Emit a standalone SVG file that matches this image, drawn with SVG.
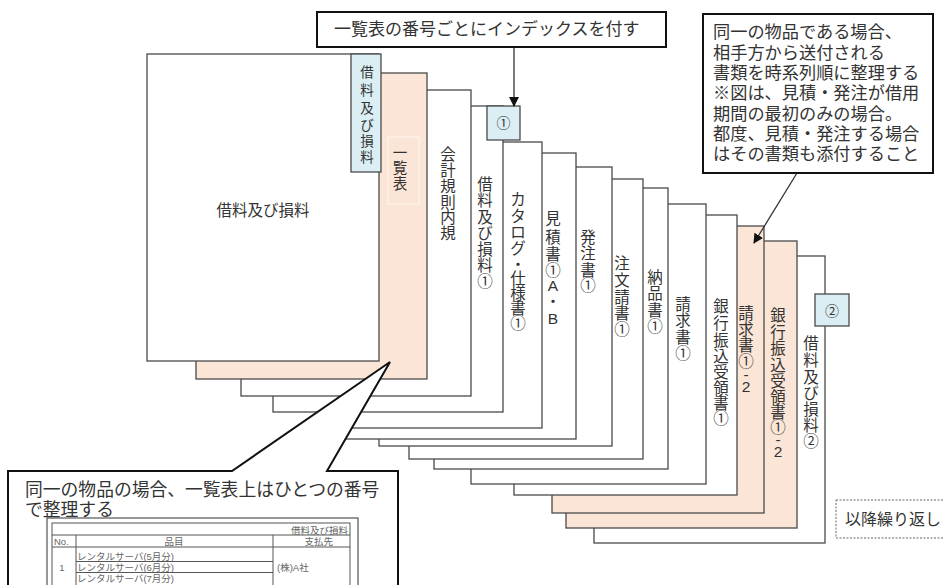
<svg xmlns="http://www.w3.org/2000/svg" width="944" height="585" viewBox="0 0 944 585">
<style>
.pg{stroke:#4a4a4a;stroke-width:1.3}
.w{fill:#ffffff}
.pe{fill:#fbe5d6}
.tab{fill:#daeef3;stroke:#4a4a4a;stroke-width:1.3}
.t{font-family:"Liberation Sans","Noto Sans CJK JP",sans-serif;fill:#333333}
.v{font-family:"Liberation Sans","Noto Sans CJK JP",sans-serif;fill:#333333;font-size:15.5px;text-anchor:middle;dominant-baseline:central}
.co{fill:#ffffff;stroke:#111111;stroke-width:2}
.tb{font-family:"Liberation Sans","Noto Sans CJK JP",sans-serif;fill:#666666;font-size:9.5px}
.tl{stroke:#555555;stroke-width:1;fill:none}
</style>
<defs>
<marker id="ah" markerWidth="10" markerHeight="10" refX="9" refY="5" orient="auto" markerUnits="userSpaceOnUse">
<path d="M0,0 L10,5 L0,10 z" fill="#111111"/>
</marker>
</defs>

<g id="page13"><rect class="pg w" x="594" y="256" width="231" height="287"/>
<rect class="tab" x="815" y="294" width="34" height="32"/>
<text class="t" x="832" y="311" font-size="14" text-anchor="middle" dominant-baseline="central">②</text>
<text class="v"><tspan x="811" y="343">借</tspan><tspan x="811" y="360">料</tspan><tspan x="811" y="377">及</tspan><tspan x="811" y="393">び</tspan><tspan x="811" y="409">損</tspan><tspan x="811" y="425">料</tspan><tspan x="811" y="441">②</tspan></text></g>

<g id="page12"><rect class="pg pe" x="566" y="241" width="231" height="287"/>
<text class="v"><tspan x="778" y="315">銀</tspan><tspan x="778" y="332">行</tspan><tspan x="778" y="348">振</tspan><tspan x="778" y="365">込</tspan><tspan x="778" y="381">受</tspan><tspan x="778" y="397">領</tspan><tspan x="778" y="412">書</tspan><tspan x="778" y="427">①</tspan><tspan x="778" y="439">-</tspan><tspan x="778" y="451">2</tspan></text></g>

<g id="page11"><rect class="pg pe" x="552" y="226" width="212" height="287"/>
<text class="v"><tspan x="746" y="313">請</tspan><tspan x="746" y="329">求</tspan><tspan x="746" y="345">書</tspan><tspan x="746" y="361">①</tspan><tspan x="746" y="374">-</tspan><tspan x="746" y="386">2</tspan></text></g>

<g id="page10"><rect class="pg w" x="514" y="215" width="223" height="280"/>
<text class="v"><tspan x="721" y="306">銀</tspan><tspan x="721" y="323">行</tspan><tspan x="721" y="340">振</tspan><tspan x="721" y="356">込</tspan><tspan x="721" y="372">受</tspan><tspan x="721" y="388">領</tspan><tspan x="721" y="403">書</tspan><tspan x="721" y="418">①</tspan></text></g>

<g id="page9"><rect class="pg w" x="471" y="204" width="235" height="280"/>
<text class="v"><tspan x="683" y="304">請</tspan><tspan x="683" y="320">求</tspan><tspan x="683" y="337">書</tspan><tspan x="683" y="353">①</tspan></text></g>

<g id="page8"><rect class="pg w" x="434" y="188" width="234" height="281"/>
<text class="v"><tspan x="655" y="277">納</tspan><tspan x="655" y="293">品</tspan><tspan x="655" y="310">書</tspan><tspan x="655" y="326">①</tspan></text></g>

<g id="page7"><rect class="pg w" x="409" y="179" width="234" height="280"/>
<text class="v"><tspan x="622" y="263">注</tspan><tspan x="622" y="280">文</tspan><tspan x="622" y="297">請</tspan><tspan x="622" y="313">書</tspan><tspan x="622" y="329">①</tspan></text></g>

<g id="page6"><rect class="pg w" x="379" y="167" width="233" height="279"/>
<text class="v"><tspan x="588" y="237">発</tspan><tspan x="588" y="253">注</tspan><tspan x="588" y="270">書</tspan><tspan x="588" y="285">①</tspan></text></g>

<g id="page5"><rect class="pg w" x="340" y="153" width="236" height="286"/>
<text class="v"><tspan x="553" y="218">見</tspan><tspan x="553" y="237">積</tspan><tspan x="553" y="254">書</tspan><tspan x="553" y="270">①</tspan><tspan x="553" y="285">A</tspan><tspan x="553" y="301">・</tspan><tspan x="553" y="318">B</tspan></text></g>

<g id="page4"><rect class="pg w" x="330" y="142" width="212" height="286"/>
<text class="v"><tspan x="518" y="199">カ</tspan><tspan x="518" y="216">タ</tspan><tspan x="518" y="232">ロ</tspan><tspan x="518" y="248">グ</tspan><tspan x="518" y="264">・</tspan><tspan x="518" y="278">仕</tspan><tspan x="518" y="293">様</tspan><tspan x="518" y="308">書</tspan><tspan x="518" y="323">①</tspan></text></g>

<g id="page3"><rect class="pg w" x="273" y="106" width="230" height="306"/>
<rect class="tab" x="487" y="106" width="33" height="34"/>
<text class="t" x="503.5" y="123" font-size="14" text-anchor="middle" dominant-baseline="central">①</text>
<text class="v"><tspan x="485" y="184">借</tspan><tspan x="485" y="200">料</tspan><tspan x="485" y="217">及</tspan><tspan x="485" y="233">び</tspan><tspan x="485" y="249">損</tspan><tspan x="485" y="265">料</tspan><tspan x="485" y="281">①</tspan></text></g>

<g id="page2"><rect class="pg w" x="241" y="90" width="230" height="306"/>
<text class="v"><tspan x="448" y="154">会</tspan><tspan x="448" y="170">計</tspan><tspan x="448" y="186">規</tspan><tspan x="448" y="202">則</tspan><tspan x="448" y="217">内</tspan><tspan x="448" y="233">規</tspan></text></g>

<g id="page1"><rect class="pg pe" x="196" y="73" width="231" height="306"/>
<rect x="388" y="137" width="31" height="67" fill="none" stroke="#fff6ee" stroke-width="1"/>
<text class="v" style="font-size:14.5px"><tspan x="400" y="153">一</tspan><tspan x="400" y="168">覧</tspan><tspan x="400" y="184">表</tspan></text></g>

<g id="page0"><rect class="pg w" x="147" y="54" width="232" height="307"/>
<rect class="tab" x="351" y="54" width="30" height="118"/>
<text class="v" style="font-size:13.5px"><tspan x="367" y="72">借</tspan><tspan x="367" y="90">料</tspan><tspan x="367" y="108">及</tspan><tspan x="367" y="125">び</tspan><tspan x="367" y="141">損</tspan><tspan x="367" y="157">料</tspan></text>
<text class="t" x="263" y="210" font-size="15.5" text-anchor="middle" dominant-baseline="central">借料及び損料</text></g>

<g id="connectors">
<line x1="514" y1="47" x2="514" y2="106" stroke="#333333" stroke-width="1.3" marker-end="url(#ah)"/>
<line x1="797" y1="173" x2="754" y2="243" stroke="#333333" stroke-width="1.3" marker-end="url(#ah)"/>
</g>

<g id="note-index">
<rect class="co" x="317" y="12" width="349" height="35"/>
<text class="t" x="334" y="29" font-size="17" dominant-baseline="central">一覧表の番号ごとにインデックスを付す</text>
</g>

<g id="note-order">
<rect class="co" x="703" y="14" width="230" height="159"/>
<text class="t" font-size="17.2" dominant-baseline="central">
<tspan x="713" y="32">同一の物品である場合、</tspan>
<tspan x="713" y="52.5">相手方から送付される</tspan>
<tspan x="713" y="73">書類を時系列順に整理する</tspan>
<tspan x="713" y="93">※図は、見積・発注が借用</tspan>
<tspan x="713" y="113.5">期間の最初のみの場合。</tspan>
<tspan x="713" y="134">都度、見積・発注する場合</tspan>
<tspan x="713" y="154">はその書類も添付すること</tspan>
</text>
</g>

<g id="note-repeat">
<rect x="836" y="500" width="115" height="38" fill="#ffffff" stroke="#666666" stroke-width="1" stroke-dasharray="2 1.5"/>
<text class="t" x="845" y="519" font-size="16" dominant-baseline="central">以降繰り返し</text>
</g>

<g id="note-list">
<polygon class="co" points="8,471 232,471 390,362 327,471 398,471 398,592 8,592"/>
<text class="t" x="25" y="490" font-size="17.8" dominant-baseline="central">同一の物品の場合、一覧表上はひとつの番号</text>
<text class="t" x="25" y="510" font-size="17.8" dominant-baseline="central">で整理する</text>
<g id="table">
<rect x="47" y="518" width="311" height="80" fill="#ffffff" stroke="#333333" stroke-width="1"/>
<rect class="tl" x="52" y="523" width="298" height="75"/>
<line class="tl" x1="52" y1="535" x2="350" y2="535"/>
<line class="tl" x1="52" y1="547" x2="350" y2="547"/>
<line class="tl" x1="76" y1="535" x2="76" y2="598"/>
<line class="tl" x1="273" y1="535" x2="273" y2="598"/>
<line class="tl" x1="76" y1="561.5" x2="273" y2="561.5"/>
<line class="tl" x1="76" y1="572.5" x2="273" y2="572.5"/>
<text class="tb" x="348" y="530" text-anchor="end" dominant-baseline="central">借料及び損料</text>
<text class="tb" x="54" y="541.5" dominant-baseline="central">No.</text>
<text class="tb" x="174" y="541.5" text-anchor="middle" dominant-baseline="central">品目</text>
<text class="tb" x="333" y="541.5" text-anchor="end" dominant-baseline="central">支払先</text>
<text class="tb" x="77" y="556" dominant-baseline="central">レンタルサーバ(5月分)</text>
<text class="tb" x="77" y="567" dominant-baseline="central">レンタルサーバ(6月分)</text>
<text class="tb" x="77" y="578" dominant-baseline="central">レンタルサーバ(7月分)</text>
<text class="tb" x="62" y="567" text-anchor="middle" dominant-baseline="central">1</text>
<text class="tb" x="277" y="567" dominant-baseline="central">(株)A社</text>
</g>
</g>
</svg>
